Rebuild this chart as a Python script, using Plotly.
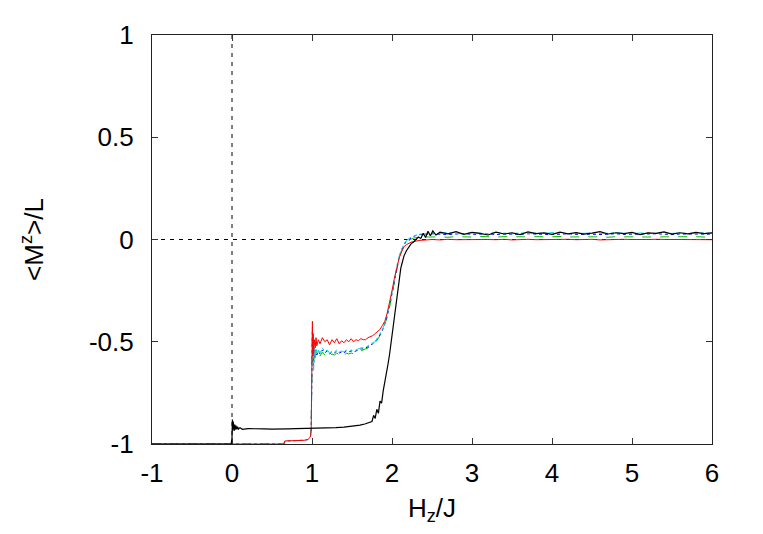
import plotly.graph_objects as go

# ---------------- data ----------------
hz_c = [-1.0, 0.65, 0.66, 0.80, 0.90, 0.95, 0.98, 0.99, 0.995, 1.0,
        1.005, 1.01, 1.015, 1.02, 1.03, 1.04, 1.05, 1.06, 1.08, 1.10,
        1.13, 1.16, 1.19, 1.22, 1.25, 1.28, 1.31, 1.34, 1.37, 1.40,
        1.43, 1.46, 1.49, 1.52, 1.55, 1.58, 1.61, 1.64, 1.67, 1.70,
        1.73, 1.76, 1.79, 1.82, 1.85, 1.88, 1.91, 1.94, 1.97, 2.00,
        2.03, 2.06, 2.09, 2.12, 2.15, 2.18, 2.21, 2.24, 2.27, 2.30, 2.35,
        2.4, 2.5, 2.6, 2.7, 2.8, 2.9, 3.0, 3.1, 3.2, 3.3, 3.4, 3.5, 3.6,
        3.7, 3.8, 3.9, 4.0, 4.1, 4.2, 4.3, 4.4, 4.5, 4.6, 4.7, 4.8, 4.9,
        5.0, 5.1, 5.2, 5.3, 5.4, 5.5, 5.6, 5.7, 5.8, 5.9, 6.0]

m_red = [-1.0, -1.0, -0.985, -0.984, -0.982, -0.978, -0.965, -0.93, -0.75, -0.45,
         -0.40, -0.57, -0.46, -0.56, -0.49, -0.53, -0.48, -0.52, -0.49, -0.51,
         -0.48, -0.50, -0.49, -0.515, -0.49, -0.505, -0.485, -0.51, -0.495, -0.505,
         -0.49, -0.50, -0.485, -0.50, -0.49, -0.495, -0.485, -0.49, -0.49, -0.48,
         -0.475, -0.47, -0.46, -0.45, -0.44, -0.42, -0.40, -0.36, -0.31, -0.25,
         -0.19, -0.14, -0.09, -0.06, -0.035, -0.025, -0.018, -0.013, -0.01, -0.007, -0.004,
         -0.003, 0.0, -0.002, 0.001, -0.001, 0.0, -0.002, 0.001, 0.0, -0.001, 0.001, -0.002, 0.0,
         0.001, -0.001, 0.0, -0.002, 0.0, 0.001, -0.001, 0.0, 0.001, -0.002, 0.0, -0.001, 0.001,
         0.0, -0.001, 0.0, 0.001, -0.001, 0.0, 0.0, -0.001, 0.001, 0.0, -0.001]

m_green = [-1.0, -1.0, -0.985, -0.984, -0.982, -0.978, -0.965, -0.93, -0.77, -0.52,
           -0.46, -0.61, -0.53, -0.60, -0.55, -0.58, -0.55, -0.57, -0.555, -0.57,
           -0.55, -0.565, -0.555, -0.57, -0.56, -0.565, -0.555, -0.565, -0.56, -0.57,
           -0.555, -0.56, -0.555, -0.56, -0.55, -0.55, -0.545, -0.54, -0.535, -0.53,
           -0.52, -0.51, -0.505, -0.49, -0.47, -0.45, -0.42, -0.38, -0.33, -0.27,
           -0.20, -0.14, -0.09, -0.055, -0.03, -0.015, -0.005, 0.002, 0.007, 0.01, 0.012,
           0.012, 0.014, 0.013, 0.011, 0.014, 0.013, 0.012, 0.015, 0.013, 0.012, 0.014, 0.013, 0.011,
           0.013, 0.014, 0.012, 0.013, 0.015, 0.012, 0.013, 0.014, 0.012, 0.013, 0.011, 0.014, 0.013,
           0.012, 0.014, 0.013, 0.012, 0.013, 0.014, 0.012, 0.013, 0.014, 0.012, 0.013]

m_blue = [-1.0, -1.0, -0.985, -0.984, -0.982, -0.978, -0.965, -0.93, -0.76, -0.50,
          -0.44, -0.60, -0.52, -0.62, -0.54, -0.57, -0.54, -0.565, -0.545, -0.56,
          -0.54, -0.555, -0.545, -0.56, -0.55, -0.555, -0.545, -0.555, -0.55, -0.555,
          -0.545, -0.55, -0.545, -0.55, -0.545, -0.54, -0.535, -0.535, -0.53, -0.525,
          -0.515, -0.51, -0.50, -0.485, -0.465, -0.445, -0.415, -0.375, -0.325, -0.265,
          -0.195, -0.135, -0.085, -0.05, -0.025, -0.01, 0.0, 0.008, 0.015, 0.02, 0.024,
          0.025, 0.028, 0.026, 0.024, 0.027, 0.029, 0.025, 0.026, 0.028, 0.024, 0.027, 0.026, 0.025,
          0.028, 0.026, 0.027, 0.024, 0.026, 0.028, 0.025, 0.027, 0.026, 0.024, 0.027, 0.028, 0.025,
          0.026, 0.027, 0.025, 0.028, 0.026, 0.024, 0.027, 0.026, 0.025, 0.027, 0.026]

m_cyan = [-1.0, -1.0, -0.985, -0.984, -0.982, -0.978, -0.965, -0.93, -0.75, -0.48,
          -0.43, -0.62, -0.50, -0.64, -0.53, -0.58, -0.53, -0.56, -0.54, -0.555,
          -0.53, -0.55, -0.54, -0.555, -0.545, -0.55, -0.54, -0.55, -0.545, -0.55,
          -0.54, -0.545, -0.54, -0.545, -0.54, -0.535, -0.53, -0.53, -0.525, -0.52,
          -0.51, -0.505, -0.50, -0.48, -0.46, -0.44, -0.41, -0.37, -0.32, -0.26,
          -0.19, -0.13, -0.08, -0.045, -0.02, -0.005, 0.005, 0.012, 0.018, 0.022, 0.026,
          0.028, 0.032, 0.029, 0.034, 0.030, 0.027, 0.033, 0.031, 0.029, 0.035, 0.030, 0.028, 0.033,
          0.030, 0.032, 0.029, 0.034, 0.031, 0.028, 0.032, 0.030, 0.033, 0.029, 0.031, 0.034, 0.030,
          0.028, 0.032, 0.031, 0.029, 0.033, 0.030, 0.032, 0.029, 0.031, 0.033, 0.030]

hz_k = [-1.0, -0.01, 0.0, 0.005, 0.01, 0.015, 0.02, 0.025, 0.03, 0.035,
        0.04, 0.05, 0.06, 0.07, 0.08, 0.10, 0.13, 0.20, 0.30, 0.40,
        0.50, 0.60, 0.70, 0.80, 0.90, 1.00, 1.10, 1.20, 1.30, 1.40,
        1.50, 1.60, 1.66, 1.70, 1.73, 1.75, 1.77, 1.79, 1.81, 1.83,
        1.85, 1.87, 1.89, 1.91, 1.93, 1.95, 1.97, 1.99, 2.01, 2.03,
        2.05, 2.07, 2.09, 2.11, 2.13, 2.15, 2.18, 2.21, 2.24, 2.27,
        2.30, 2.33, 2.36, 2.39, 2.42, 2.45, 2.48, 2.51, 2.55, 2.60,
        2.7, 2.8, 2.9, 3.0, 3.1, 3.2, 3.3, 3.4, 3.5, 3.6, 3.7, 3.8,
        3.9, 4.0, 4.1, 4.2, 4.3, 4.4, 4.5, 4.6, 4.7, 4.8, 4.9, 5.0,
        5.1, 5.2, 5.3, 5.4, 5.5, 5.6, 5.7, 5.8, 5.9, 6.0]

m_black = [-1.0, -1.0, -0.97, -0.88, -0.935, -0.89, -0.93, -0.90, -0.935, -0.905,
           -0.93, -0.91, -0.928, -0.915, -0.927, -0.92, -0.928, -0.925, -0.927, -0.926,
           -0.927, -0.925, -0.926, -0.925, -0.924, -0.925, -0.923, -0.922, -0.92, -0.917,
           -0.913, -0.908, -0.902, -0.897, -0.893, -0.89, -0.86, -0.875, -0.83, -0.85,
           -0.79, -0.80, -0.74, -0.70, -0.66, -0.61, -0.56, -0.50, -0.43, -0.37,
           -0.30, -0.24, -0.19, -0.14, -0.11, -0.08, -0.055, -0.035, -0.02, -0.012,
           -0.002, 0.012, 0.005, 0.03, 0.01, 0.04, 0.018, 0.042, 0.022, 0.036,
           0.028, 0.038, 0.025, 0.035, 0.030, 0.022, 0.036, 0.027, 0.033, 0.024, 0.037, 0.029,
           0.032, 0.025, 0.036, 0.028, 0.034, 0.026, 0.031, 0.038, 0.027, 0.033, 0.029, 0.035,
           0.024, 0.032, 0.030, 0.037, 0.026, 0.033, 0.028, 0.035, 0.029, 0.032]

x_ticks = [-1, 0, 1, 2, 3, 4, 5, 6]
y_ticks = [-1, -0.5, 0, 0.5, 1]
y_tick_text = ["-1", "-0.5", "0", "0.5", "1"]

# ---------------- figure ----------------
fig = go.Figure()

series = [
    (m_green, "#00c000", "dash", 1),
    (m_blue, "#0000ff", "dot", 1),
    (m_cyan, "#00e0e0", "dashdot", 1),
    (m_red, "#ff0000", "solid", 1),
]
for ys, col, dash, w in series:
    fig.add_trace(go.Scatter(x=hz_c, y=ys, mode="lines",
                             line=dict(color=col, width=w, dash=dash),
                             showlegend=False, hoverinfo="skip"))

fig.add_trace(go.Scatter(x=hz_k, y=m_black, mode="lines",
                         line=dict(color="#000000", width=1.2),
                         showlegend=False, hoverinfo="skip"))

# dashed zero reference lines
fig.add_hline(y=0, line=dict(color="black", width=1, dash="4px,5px"), layer="below")
fig.add_vline(x=0, line=dict(color="black", width=1, dash="4px,5px"), layer="below")

font = "Liberation Sans, Arial, Helvetica, sans-serif"
fig.update_layout(
    width=747, height=518,
    margin=dict(l=144, r=43, t=27, b=82),
    paper_bgcolor="white", plot_bgcolor="white",
    font=dict(family=font, size=26, color="black"),
    showlegend=False,
)
fig.update_xaxes(
    range=[-1, 6], tickvals=x_ticks, ticktext=[str(v) for v in x_ticks],
    ticks="inside", ticklen=6, tickcolor="#333", tickwidth=1,
    showline=True, linecolor="#222", linewidth=1.2, mirror="ticks",
    showgrid=False, zeroline=False, ticklabelstandoff=6, automargin=False,
    title=dict(text="H<sub>z</sub>/J", standoff=17, font=dict(size=26)),
)
fig.update_yaxes(
    range=[-1, 1], tickvals=y_ticks, ticktext=y_tick_text,
    ticks="inside", ticklen=6, tickcolor="#333", tickwidth=1,
    showline=True, linecolor="#222", linewidth=1.2, mirror="ticks",
    showgrid=False, zeroline=False, ticklabelstandoff=12, automargin=False,
    title=dict(text="<M<sup>z</sup>>/L", standoff=37, font=dict(size=26)),
)

fig.write_html("out.html")
